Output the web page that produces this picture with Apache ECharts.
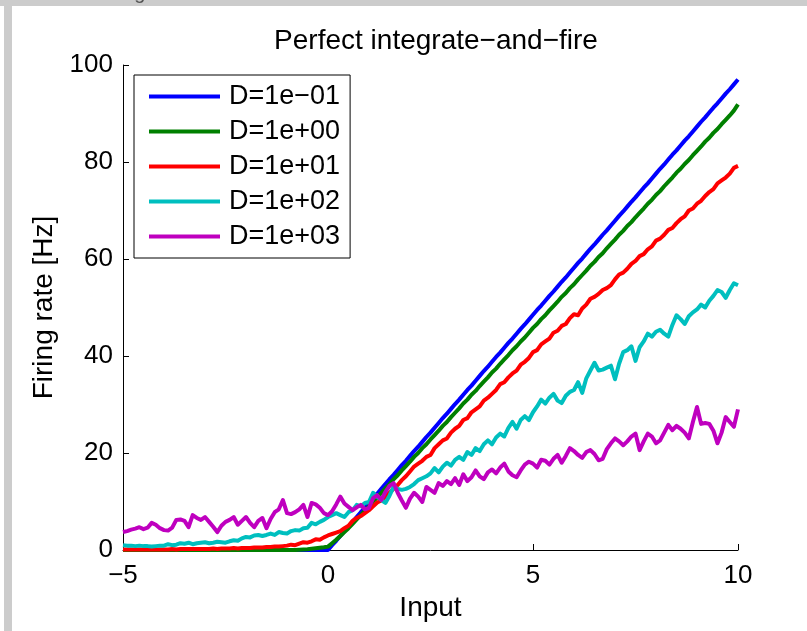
<!DOCTYPE html>
<html>
<head>
<meta charset="utf-8">
<style>
  html, body { margin: 0; padding: 0; background: #ffffff; }
  #chart { width: 807px; height: 631px; }
</style>
<script src="https://cdn.jsdelivr.net/npm/echarts@6/dist/echarts.min.js"></script>
</head>
<body>
<div id="chart"></div>
<script>
// Input sweep: -5 .. 10 in steps of 0.1
const inputStart = -5;
const inputStep = 0.1;

const seriesNames = ['D=1e\u221201', 'D=1e+00', 'D=1e+01', 'D=1e+02', 'D=1e+03'];
const seriesColors = ['#0000ff', '#008000', '#ff0000', '#00bfbf', '#bf00bf'];

// Firing rate [Hz] for each noise level D
const rateD1em1 = [
  0,0,0,0,0,0,0,0,0,0,
  0,0,0,0,0,0,0,0,0,0,
  0,0,0,0,0,0,0,0,0,0,
  0,0,0,0,0,0,0,0,0,0,
  0,0,0,0,0,0,0,0,0,0,
  0,
  1.0,1.9,2.9,3.9,4.8,5.8,6.8,7.8,8.7,9.7,
  10.7,11.6,12.6,13.6,14.6,15.5,16.5,17.5,18.4,19.4,
  20.4,21.3,22.3,23.3,24.2,25.2,26.2,27.2,28.1,29.1,
  30.1,31.0,32.0,33.0,33.9,34.9,35.9,36.9,37.8,38.8,
  39.8,40.7,41.7,42.7,43.6,44.6,45.6,46.5,47.5,48.5,
  49.5,50.4,51.4,52.4,53.3,54.3,55.3,56.2,57.2,58.2,
  59.2,60.1,61.1,62.1,63.0,64.0,65.0,65.9,66.9,67.9,
  68.9,69.8,70.8,71.8,72.7,73.7,74.7,75.6,76.6,77.6,
  78.6,79.5,80.5,81.5,82.4,83.4,84.4,85.3,86.3,87.3,
  88.3,89.2,90.2,91.2,92.1,93.1,94.1,95.0,96.0,97.0
];

const rateD1e0 = [
  0,0,0,0,0,0,0,0,0,0,
  0,0,0,0,0,0,0,0,0,0,
  0,0,0,0,0,0,0,0,0,0,
  0,0,0,0,0,0,0,0,0,0,
  0,0,0,0.05,0.1,0.15,0.25,0.35,0.45,0.55,
  0.7,
  1.4,2.1,2.9,3.7,4.5,5.4,6.3,7.2,8.1,9.0,
  10.0,10.8,11.8,12.7,13.6,14.6,15.4,16.4,17.3,18.2,
  19.2,20.0,21.0,21.8,22.8,23.7,24.6,25.6,26.4,27.4,
  28.3,29.2,30.2,31.0,32.0,32.8,33.8,34.7,35.6,36.6,
  37.4,38.4,39.3,40.2,41.2,42.0,43.0,43.8,44.8,45.8,
  46.6,47.6,48.4,49.4,50.3,51.2,52.2,53.0,54.0,54.8,
  55.8,56.7,57.6,58.6,59.4,60.4,61.2,62.2,63.1,64.0,
  65.0,65.8,66.8,67.6,68.6,69.5,70.4,71.4,72.2,73.2,
  74.0,75.0,75.9,76.8,77.8,78.6,79.6,80.4,81.4,82.3,
  83.2,84.2,85.0,86.0,86.8,87.8,88.7,89.6,90.6,91.9
];

const rateD1e1 = [
  0.1,0.1,0.1,0.1,0.1,0.1,0.1,0.1,0.1,0.1,
  0.1,0.1,0.2,0.1,0.2,0.2,0.2,0.2,0.2,0.2,
  0.2,0.2,0.3,0.2,0.3,0.3,0.3,0.4,0.3,0.4,
  0.4,0.4,0.5,0.5,0.5,0.6,0.6,0.7,0.7,0.8,
  0.9,1.1,1.0,1.3,1.6,1.5,1.8,2.2,2.1,2.6,
  3.0,
  3.3,3.6,3.9,4.5,5.0,6.0,6.6,7.0,7.6,8.2,
  9.0,9.8,10.2,11.0,11.8,12.6,13.4,14.4,15.2,16.2,
  17.2,17.8,18.4,19.2,19.6,21.0,21.8,22.6,23.0,24.2,
  25.0,25.6,26.8,27.2,28.4,29.0,29.6,30.8,31.4,32.2,
  33.0,34.2,34.6,35.6,36.4,37.0,38.2,38.8,39.6,40.8,
  41.2,42.4,43.0,43.6,44.8,45.2,46.2,46.6,47.8,48.6,
  48.4,49.8,50.6,51.8,52.2,52.8,53.6,54.0,54.6,55.8,
  56.8,57.2,58.0,59.0,59.6,60.6,61.0,62.0,62.6,63.8,
  64.2,65.0,66.0,66.4,67.4,68.2,68.8,70.0,70.4,71.4,
  72.0,73.0,73.8,74.4,75.6,76.2,76.8,77.6,78.8,79.2
];

const rateD1e2 = [
  1.0,0.9,0.9,0.8,0.9,0.8,0.8,0.7,0.8,0.9,
  0.9,1.2,1.0,1.1,1.4,1.3,1.5,1.2,1.4,1.5,
  1.6,1.4,1.5,1.7,1.6,1.5,1.8,2.0,1.9,2.4,
  2.7,2.6,3.0,3.1,2.9,3.1,3.4,3.1,3.7,3.5,
  3.4,3.9,4.1,4.0,4.5,4.6,5.6,5.3,5.8,6.2,
  6.8,
  7.2,7.6,7.2,6.8,7.8,8.2,9.3,9.0,9.7,9.9,
  11.8,11.0,10.3,9.7,11.2,13.0,12.6,12.4,12.6,13.0,
  13.6,14.4,14.8,15.2,15.8,16.9,16.0,17.2,18.0,17.4,
  18.6,19.2,18.6,20.2,19.6,21.0,20.4,21.8,22.6,21.8,
  23.2,24.0,23.4,25.2,26.4,25.0,26.8,27.6,26.8,28.4,
  29.6,31.0,30.2,31.4,32.2,30.8,30.3,31.8,32.6,33.0,
  34.6,32.4,35.4,37.0,38.6,37.0,37.2,37.6,38.0,35.2,
  38.4,40.8,41.2,42.0,39.0,41.8,43.0,44.6,44.0,45.0,
  45.4,44.6,44.0,46.4,48.4,47.6,46.6,48.2,49.0,49.6,
  50.6,50.0,51.4,52.4,53.6,53.2,52.0,53.6,55.0,54.6
];

const rateD1e3 = [
  3.7,3.9,4.2,4.4,4.7,4.3,4.6,5.6,5.2,4.5,
  4.1,4.0,4.6,6.2,6.3,6.0,4.7,7.2,6.6,6.2,
  6.8,5.8,4.8,3.7,5.0,5.8,6.2,6.8,5.2,6.0,
  6.8,5.6,4.7,6.0,6.6,4.5,6.4,7.8,8.4,10.3,
  7.6,7.4,7.8,8.4,9.3,6.8,9.7,9.4,8.7,7.6,
  7.2,
  8.0,9.4,11.0,9.6,8.9,8.2,8.8,9.3,8.4,8.7,
  10.7,11.3,10.3,12.0,13.2,13.8,11.8,10.2,8.7,10.6,
  11.8,11.0,9.9,13.0,12.4,11.8,13.8,13.2,14.2,13.6,
  14.8,13.4,15.6,14.2,15.0,16.4,15.2,14.6,16.0,16.6,
  15.8,17.0,17.8,16.2,15.4,15.0,16.4,17.6,18.2,17.8,
  17.0,18.6,18.4,17.6,18.8,19.6,18.0,19.4,21.0,20.4,
  19.6,19.0,20.2,20.6,19.8,18.5,18.8,20.8,22.0,23.0,
  22.4,21.6,22.4,23.4,24.0,20.6,22.4,24.0,23.4,22.0,
  22.6,24.2,25.8,24.7,25.6,25.0,24.2,23.0,26.4,29.5,
  26.0,26.2,26.0,24.6,22.0,24.2,27.4,26.4,25.4,29.0
];

const rates = [rateD1em1, rateD1e0, rateD1e1, rateD1e2, rateD1e3];

const xTicks = { min: -5, max: 10, interval: 5 };
const yTicks = { min: 0, max: 100, interval: 20 };

const FONT = 'Liberation Sans';
const minusSign = v => String(v).replace('-', '\u2212');

function pairs(values) {
  return values.map((v, i) => [+(inputStart + i * inputStep).toFixed(2), v]);
}

const chart = echarts.init(document.getElementById('chart'), null, { renderer: 'canvas' });

chart.setOption({
  backgroundColor: '#ffffff',
  animation: false,
  textStyle: { fontFamily: FONT },
  title: {
    text: 'Perfect integrate\u2212and\u2212fire',
    left: 431, top: 22, textAlign: 'center',
    textStyle: { fontFamily: FONT, fontSize: 28, fontWeight: 'normal', color: '#000' }
  },
  grid: {
    left: 123, right: 69, top: 65, bottom: 81,
    containLabel: false, outerBoundsMode: 'none'
  },
  legend: {
    orient: 'vertical',
    left: 134, top: 75,
    data: seriesNames,
    icon: 'rect',
    itemWidth: 71, itemHeight: 4,
    itemGap: 8,
    padding: [8, 10, 8, 15],
    borderColor: '#000', borderWidth: 1,
    backgroundColor: '#ffffff',
    textStyle: { fontFamily: FONT, fontSize: 27, color: '#000', lineHeight: 27, padding: [0, 0, 0, 4] }
  },
  xAxis: {
    type: 'value',
    min: xTicks.min, max: xTicks.max, interval: xTicks.interval,
    name: 'Input', nameLocation: 'middle', nameGap: 41,
    nameTextStyle: { fontFamily: FONT, fontSize: 28, color: '#000' },
    axisLine: { onZero: false, lineStyle: { color: '#000', width: 1 } },
    axisTick: { inside: true, length: 6, lineStyle: { color: '#000' } },
    axisLabel: { fontFamily: FONT, fontSize: 26, color: '#000', margin: 13, formatter: minusSign },
    splitLine: { show: false }
  },
  yAxis: {
    type: 'value',
    min: yTicks.min, max: yTicks.max, interval: yTicks.interval,
    name: 'Firing rate [Hz]', nameLocation: 'middle', nameGap: 64,
    nameTextStyle: { fontFamily: FONT, fontSize: 28, color: '#000' },
    axisLine: { show: true, onZero: false, lineStyle: { color: '#000', width: 1 } },
    axisTick: { show: true, inside: true, length: 6, lineStyle: { color: '#000' } },
    axisLabel: { fontFamily: FONT, fontSize: 26, color: '#000', margin: 10 },
    splitLine: { show: false }
  },
  graphic: [
    { type: 'rect', shape: { x: 0, y: 0, width: 807, height: 6 }, style: { fill: '#cccccc' }, z: 100 },
    { type: 'rect', shape: { x: 4, y: 0, width: 8, height: 631 }, style: { fill: '#cccccc' }, z: 100 },
    { type: 'text', x: 33, y: -17, style: { text: 'Perfect integrate and fire', fontFamily: FONT, fontSize: 20, fill: '#555555' }, z: 101 }
  ],
  series: rates.map((r, k) => ({
    name: seriesNames[k],
    type: 'line',
    data: pairs(r),
    showSymbol: false,
    symbol: 'none',
    lineStyle: { color: seriesColors[k], width: 4, join: 'round' },
    itemStyle: { color: seriesColors[k] },
    emphasis: { disabled: true }
  }))
});
</script>
</body>
</html>
